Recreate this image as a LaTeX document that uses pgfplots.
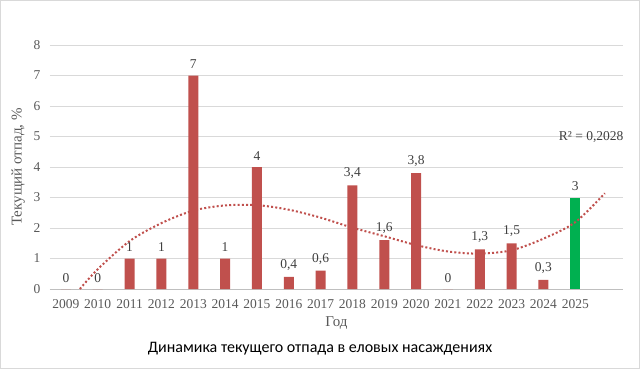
\documentclass[border=0pt]{standalone}
\usepackage{pgfplots}
\pgfplotsset{compat=1.18}
\usepackage{fontspec}
\setmainfont{Liberation Serif}
\newfontfamily\carlito{Carlito}
\definecolor{barred}{HTML}{C0504D}
\definecolor{bargreen}{HTML}{00B050}
\definecolor{gridgray}{HTML}{D9D9D9}
\definecolor{axisgray}{HTML}{BFBFBF}
\definecolor{ticktext}{HTML}{595959}
\definecolor{labeltext}{HTML}{404040}
\begin{document}
\begin{tikzpicture}
\path[use as bounding box] (-50bp,-80bp) rectangle (590bp,289bp);
\draw[gridgray, line width=1bp] (-49bp,-79bp) rectangle (589bp,288bp);
\begin{axis}[
  at={(0,0)}, anchor=south west,
  scale only axis, width=573bp, height=244bp,
  xmin=-0.5, xmax=17.5, ymin=0, ymax=8,
  ybar, bar width=10bp, bar shift=0pt,
  xtick={0,...,16},
  xticklabels={2009,2010,2011,2012,2013,2014,2015,2016,2017,2018,2019,2020,2021,2022,2023,2024,2025},
  ytick={0,...,8},
  major tick length=0pt,
  axis y line*=left,
  axis x line*=bottom,
  y axis line style={draw=none},
  x axis line style={draw=axisgray, line width=1bp, -},
  ymajorgrids, grid style={gridgray, line width=1bp},
  /pgf/number format/assume math mode=true,
  /pgf/number format/use comma,
  ticklabel style={font=\fontsize{13.5bp}{16bp}\selectfont, text=ticktext},
  yticklabel style={anchor=east, xshift=-6bp},
  xticklabel style={anchor=north, yshift=-7bp},
  nodes near coords,
  every node near coord/.append style={font=\fontsize{13.5bp}{16bp}\selectfont, text=labeltext, yshift=3bp},
  clip=false,
]
\addplot[fill=barred, draw=none] coordinates {
(0,0) (1,0) (2,1) (3,1) (4,7) (5,1) (6,4) (7,0.4) (8,0.6) (9,3.4) (10,1.6) (11,3.8) (12,0) (13,1.3) (14,1.5) (15,0.3)};
\addplot[fill=bargreen, draw=none] coordinates {(16,3)};
\addplot[smooth, no marks, barred, line width=2bp, dash pattern=on 2bp off 2.2bp, nodes near coords=]
coordinates {
(0.44,0) (1,0.65) (2,1.57) (3,2.16) (4,2.57) (5,2.74) (6,2.75) (7,2.6) (8,2.34) (9,2.01) (10,1.73) (11,1.44) (12,1.23) (13,1.16) (14,1.27) (15,1.65) (16,2.19) (16.93,3.14)};
\node[font=\fontsize{13.5bp}{16bp}\selectfont, text=labeltext] at (axis cs:16.5,4.98) {R² = 0,2028};
\end{axis}
\node[font=\fontsize{15bp}{18bp}\selectfont, text=ticktext] at (286.5bp,-34bp) {Год};
\node[font=\fontsize{15bp}{18bp}\selectfont, text=ticktext, rotate=90] at (-32bp,122bp) {Текущий отпад, \%};
\node[font=\carlito\fontsize{16bp}{19bp}\selectfont, text=black] at (270bp,-60bp) {Динамика текущего отпада в еловых насаждениях};
\end{tikzpicture}
\end{document}
